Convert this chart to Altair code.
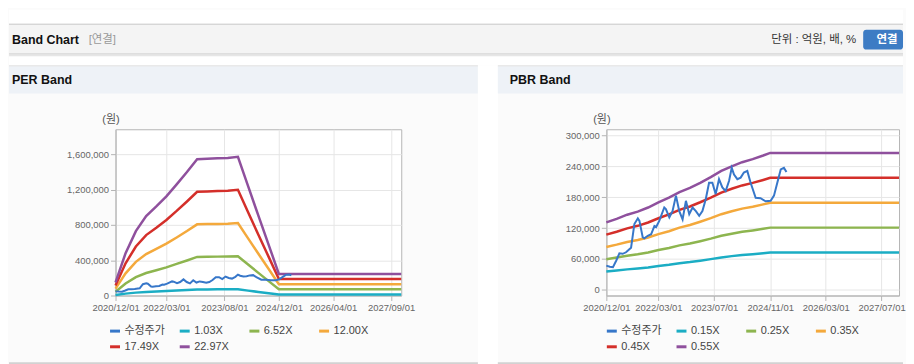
import altair as alt
import pandas as pd

FONT = "Liberation Sans, Noto Sans CJK KR"

# ---------------- data ----------------
price_dates = [
    "2020-12-01", "2020-12-31", "2021-01-28", "2021-02-26", "2021-03-25", "2021-04-23",
    "2021-05-22", "2021-06-20", "2021-07-05", "2021-08-03", "2021-09-02", "2021-09-16",
    "2021-10-15", "2021-10-29", "2021-11-28", "2021-12-27", "2022-01-25", "2022-02-09",
    "2022-03-08", "2022-04-21", "2022-05-05", "2022-06-04", "2022-07-02", "2022-08-01",
    "2022-08-30", "2022-09-28", "2022-10-27", "2022-11-25", "2022-12-24", "2023-01-22",
    "2023-02-20", "2023-03-20", "2023-04-18", "2023-05-17", "2023-06-15", "2023-07-14",
    "2023-08-12", "2023-09-10", "2023-10-09", "2023-11-08", "2023-12-01", "2023-12-21",
    "2024-01-19", "2024-02-17", "2024-03-16", "2024-04-15", "2024-05-14", "2024-06-27",
    "2024-08-09", "2024-09-22", "2024-11-05", "2024-12-04", "2025-01-02", "2025-02-01",
    "2025-03-01", "2025-03-23",
]
price_values = [
    47000, 45000, 44000, 57000, 71000, 70000,
    73000, 79000, 82000, 128000, 139000, 134000,
    102000, 100000, 105000, 108000, 124000, 122000,
    134000, 160000, 157000, 141000, 153000, 183000,
    153000, 137000, 173000, 147000, 160000, 153000,
    144000, 153000, 176000, 208000, 208000, 186000,
    215000, 199000, 192000, 212000, 237000, 224000,
    215000, 218000, 228000, 231000, 208000, 179000,
    178000, 172000, 173000, 183000, 208000, 234000,
    237000, 229000,
]

per_band_dates = [
    "2020-12-01", "2021-03-01", "2021-06-01", "2021-09-01", "2021-12-01", "2022-03-01",
    "2022-06-01", "2022-09-01", "2022-12-01", "2023-03-01", "2023-06-01", "2023-09-01",
    "2023-12-01", "2024-03-01", "2024-06-01", "2024-09-01", "2024-12-01", "2027-12-01",
]
per_1_03x = [6700, 21500, 32800, 40300, 45300, 50400, 56500, 62800, 69300, 69500, 69700,
             70000, 70500, 55600, 40600, 25800, 11000, 11000]
per_6_52x = [43000, 136000, 208000, 255000, 287000, 319000, 358000, 397000, 438000, 440000,
             441000, 443000, 446000, 352000, 257000, 163000, 70000, 70000]
per_12_00x = [78000, 251000, 382000, 470000, 528000, 588000, 658000, 731000, 807000, 810000,
              812000, 815000, 822000, 648000, 473000, 300000, 128000, 128000]
per_17_49x = [114000, 365000, 556000, 685000, 769000, 857000, 959000, 1066000, 1176000,
              1180000, 1184000, 1188000, 1198000, 944000, 689000, 438000, 187000, 187000]
per_22_97x = [150000, 480000, 730000, 900000, 1010000, 1125000, 1260000, 1400000, 1545000,
              1550000, 1555000, 1560000, 1573000, 1240000, 905000, 575000, 245000, 245000]

pbr_band_dates = [
    "2020-12-01", "2021-03-01", "2021-06-01", "2021-09-01", "2021-12-01", "2022-03-01",
    "2022-06-01", "2022-09-01", "2022-12-01", "2023-03-01", "2023-06-01", "2023-09-01",
    "2023-12-01", "2024-03-01", "2024-06-01", "2024-09-01", "2024-11-01", "2027-12-01",
]
pbr_0_15x = [35700, 37600, 39800, 41500, 43600, 46400, 48800, 51800, 54000, 56700, 59700,
             63000, 65500, 67600, 69300, 71200, 72500, 72500]
pbr_0_25x = [59500, 62700, 66400, 69100, 72700, 77300, 81400, 86400, 90000, 94500, 99500,
             105000, 109100, 112700, 115500, 118600, 120900, 120900]
pbr_0_35x = [83400, 87800, 92900, 96700, 101800, 108200, 113900, 120900, 126000, 132400,
             139400, 147000, 152700, 157800, 161600, 166100, 169300, 169300]
pbr_0_45x = [107200, 112900, 119500, 124400, 130900, 139100, 146500, 155500, 162000, 170200,
             179200, 189000, 196400, 202900, 207800, 213500, 217600, 217600]
pbr_0_55x = [131000, 138000, 146000, 152000, 160000, 170000, 179000, 190000, 198000, 208000,
             219000, 231000, 240000, 248000, 254000, 261000, 266000, 266000]

per_labels = ["수정주가", "1.03X", "6.52X", "12.00X", "17.49X", "22.97X"]
pbr_labels = ["수정주가", "0.15X", "0.25X", "0.35X", "0.45X", "0.55X"]
series_colors = ["#3777c9", "#1badc4", "#8db54f", "#f4a93c", "#d42f2a", "#8f509d"]

per_x_ticks = ["2020-12-01", "2022-03-01", "2023-08-01", "2024-12-01", "2026-04-01", "2027-09-01"]
pbr_x_ticks = ["2020-12-01", "2022-03-01", "2023-07-01", "2024-11-01", "2026-03-01", "2027-07-01"]
x_domain = ["2020-12-01", "2027-12-01"]
per_y_ticks = [0, 400000, 800000, 1200000, 1600000]
pbr_y_ticks = [0, 60000, 120000, 180000, 240000, 300000]
per_y_domain = [0, 1885000]
pbr_y_domain = [-11000, 312000]


# ---------------- helpers ----------------
def dt(s):
    y, m, d = (int(p) for p in s.split("-"))
    return alt.DateTime(year=y, month=m, date=d, utc=True)


dummy = pd.DataFrame({"k": [0]})


def box(x1, x2, y1, y2, color, r=0):
    if r:
        mk = alt.Chart(dummy).mark_rect(color=color, cornerRadius=r)
    else:
        mk = alt.Chart(dummy).mark_rect(color=color)
    return mk.encode(x=alt.value(x1), x2=alt.value(x2), y=alt.value(y1), y2=alt.value(y2))


def label(text, x, y, size=12, weight="normal", color="#222", align="left"):
    return alt.Chart(dummy).mark_text(
        text=text, align=align, baseline="middle", fontSize=size,
        fontWeight=weight, color=color, font=FONT,
    ).encode(x=alt.value(x), y=alt.value(y))


def band_panel(labels, band_dates, band_series, width, y_domain, y_ticks, x_ticks,
               legend_x, decor):
    rows = []
    for lab, vals in zip(labels[1:], band_series):
        for d, v in zip(band_dates, vals):
            rows.append({"date": d, "value": v, "series": lab})
    bands = pd.DataFrame(rows)
    price = pd.DataFrame({"date": price_dates, "value": price_values,
                          "series": [labels[0]] * len(price_dates)})

    xenc = alt.X(
        "date:T",
        scale=alt.Scale(type="utc", domain=[dt(x_domain[0]), dt(x_domain[1])]),
        axis=alt.Axis(values=[dt(s) for s in x_ticks], format="%Y/%m/%d",
                      labelOverlap=False, labelFlush=False, title=None),
    )
    yenc = alt.Y(
        "value:Q",
        scale=alt.Scale(domain=y_domain, nice=False, zero=False),
        axis=alt.Axis(values=y_ticks, format=",d", title="(원)", titleAngle=0,
                      titleAlign="center", titleBaseline="middle", titleX=-5, titleY=-10,
                      titleFontWeight="normal", titleFont=FONT, titleFontSize=11,
                      titleColor="#555"),
    )
    legend = alt.Legend(
        title=None, orient="none", legendX=legend_x, legendY=196,
        direction="horizontal", columns=4, gridAlign="all", columnPadding=8,
        rowPadding=3, symbolType="stroke", symbolSize=100, symbolStrokeWidth=3,
        labelFont=FONT, labelFontSize=11, labelColor="#444", labelOffset=3,
    )
    cenc = alt.Color("series:N", scale=alt.Scale(domain=labels, range=series_colors),
                     legend=legend)
    band_layer = alt.Chart(bands).mark_line(strokeWidth=2.5).encode(
        x=xenc, y=yenc, color=cenc)
    price_layer = alt.Chart(price).mark_line(strokeWidth=2).encode(
        x=xenc, y=yenc, color=cenc)
    return alt.layer(*decor, band_layer, price_layer).properties(width=width, height=167)


# decorations of the page (positions relative to each plot area)
decor_per = [
    box(-107, 791, -120, -106, "white"),
    box(-107, 791, -106, -105, "#bdbdbd"),
    box(-107, 791, -105, -76, "#f4f4f4"),
    box(-107, 791, -76, -75, "#c6c6c6"),
    box(-107, 791, -75, -73, "#e6e6e6"),
    box(-107, 791, -73, -64, "white"),
    label("Band Chart", -104, -90, 12.5, "bold", "#111"),
    label("[연결]", -27, -90, 11.5, "normal", "#999"),
    label("단위 : 억원, 배, %", 744, -90, 11.5, "normal", "#333", align="right"),
    box(751, 791, -100, -80, "#3d7cc4", r=3),
    label("연결", 775, -90, 11.5, "bold", "white", align="center"),
    box(-107, 364, -64, -63, "#d6d6d6"),
    box(-107, 364, -63, -36, "#eef2f7"),
    label("PER Band", -104, -49, 12.5, "bold", "#111"),
    box(364, 384, -64, 236, "white"),
    box(-107, 364, 234, 236, "#d2d2d2"),
]
decor_pbr = [
    box(-109, 298, -64, -63, "#d6d6d6"),
    box(-109, 298, -63, -36, "#eef2f7"),
    label("PBR Band", -97, -49, 12.5, "bold", "#111"),
    box(-109, 298, 234, 236, "#d2d2d2"),
]

per = band_panel(per_labels, per_band_dates,
                 [per_1_03x, per_6_52x, per_12_00x, per_17_49x, per_22_97x],
                 287, per_y_domain, per_y_ticks, per_x_ticks, -7, decor_per)
pbr = band_panel(pbr_labels, pbr_band_dates,
                 [pbr_0_15x, pbr_0_25x, pbr_0_35x, pbr_0_45x, pbr_0_55x],
                 294, pbr_y_domain, pbr_y_ticks, pbr_x_ticks, -1, decor_pbr)

chart = alt.hconcat(
    per, pbr, spacing=206, bounds="flush", padding=0, background="#fbfbfb",
).resolve_scale(color="independent").resolve_legend(color="independent").configure_view(
    fill="white", stroke="#b4b4b4", strokeWidth=1,
).configure_axis(
    labelFont=FONT, labelFontSize=9.5, labelColor="#666", domainColor="#b4b4b4",
    tickColor="#b4b4b4", tickSize=5, labelPadding=2, gridColor="#e6e6e6",
)

chart.save("out.html", embed_options={"renderer": "svg", "actions": False})
